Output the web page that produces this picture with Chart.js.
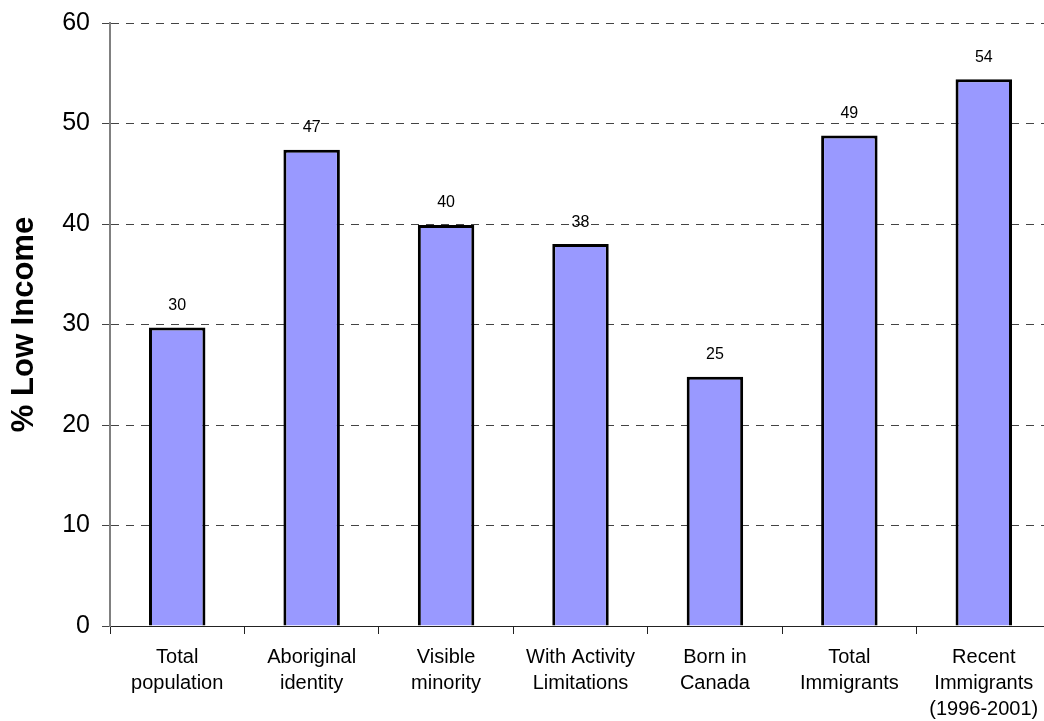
<!DOCTYPE html>
<html>
<head>
<meta charset="utf-8">
<script src="https://cdn.jsdelivr.net/npm/chart.js@4"></script>
<style>
  html, body { margin: 0; padding: 0; background: #fff; overflow: hidden; }
  #wrap { width: 1044px; height: 721px; overflow: hidden; }
</style>
</head>
<body>
<div id="wrap"><canvas id="chart" width="1060" height="721"></canvas></div>
<script>
// categories and values
var categories = [
  ['Total', 'population'],
  ['Aboriginal', 'identity'],
  ['Visible', 'minority'],
  ['With Activity', 'Limitations'],
  ['Born in', 'Canada'],
  ['Total', 'Immigrants'],
  ['Recent', 'Immigrants', '(1996-2001)']
];
var lowIncome = [29.7, 47.4, 39.9, 38.0, 24.8, 48.8, 54.4];
var valueLabels = ['30', '47', '40', '38', '25', '49', '54'];
var yTicks = [0, 10, 20, 30, 40, 50, 60];

var fontFamily = '"Liberation Sans", Arial, sans-serif';

// labels above each bar
var barLabels = {
  id: 'barLabels',
  afterDatasetsDraw(chart) {
    var ctx = chart.ctx;
    var meta = chart.getDatasetMeta(0);
    ctx.save();
    ctx.font = '16px ' + fontFamily;
    ctx.fillStyle = '#000';
    ctx.textAlign = 'center';
    ctx.textBaseline = 'middle';
    meta.data.forEach((bar, i) => {
      ctx.fillText(valueLabels[i], bar.x, bar.y - 22);
    });
    ctx.restore();
  }
};

var chart = new Chart('chart', {
  type: 'bar',
  data: {
    labels: categories,
    datasets: [{
      data: lowIncome,
      backgroundColor: '#9999FF',
      borderColor: '#000',
      borderWidth: 3,
      borderSkipped: 'bottom',
      categoryPercentage: 1,
      barPercentage: 0.42
    }]
  },
  options: {
    responsive: false,
    animation: false,
    layout: { padding: { left: 6, top: 23, right: 9, bottom: 0 } },
    plugins: { legend: { display: false }, tooltip: { enabled: false } },
    scales: {
      x: {
        offset: true,
        grid: {
          offset: true,
          drawOnChartArea: false,
          drawTicks: true,
          tickLength: 8,
          tickColor: '#222',
          tickWidth: 1
        },
        border: { color: '#222', width: 1 },
        ticks: {
          color: '#000',
          padding: 10,
          maxRotation: 0,
          autoSkip: false,
          font: { family: fontFamily, size: 20, lineHeight: 1.3 }
        },
        afterFit(scale) { scale.height = 95; }
      },
      y: {
        min: 0,
        max: 60,
        afterBuildTicks(scale) { scale.ticks = yTicks.map(v => ({ value: v })); },
        grid: {
          color: '#444',
          lineWidth: 1,
          drawTicks: true,
          tickLength: 8,
          tickColor: '#444'
        },
        border: { color: '#808080', width: 2, dash: [8, 7] },
        ticks: {
          color: '#000',
          padding: 12,
          font: { family: fontFamily, size: 25 }
        },
        title: {
          display: true,
          text: '% Low Income',
          color: '#000',
          padding: { top: 0, bottom: 0 },
          font: { family: fontFamily, size: 31, weight: 'bold' }
        },
        afterFit(scale) {
          scale.width = 104;
          scale.paddingTop = 0;
          scale.paddingBottom = 0;
        }
      }
    }
  },
  plugins: [barLabels]
});
</script>
</body>
</html>
